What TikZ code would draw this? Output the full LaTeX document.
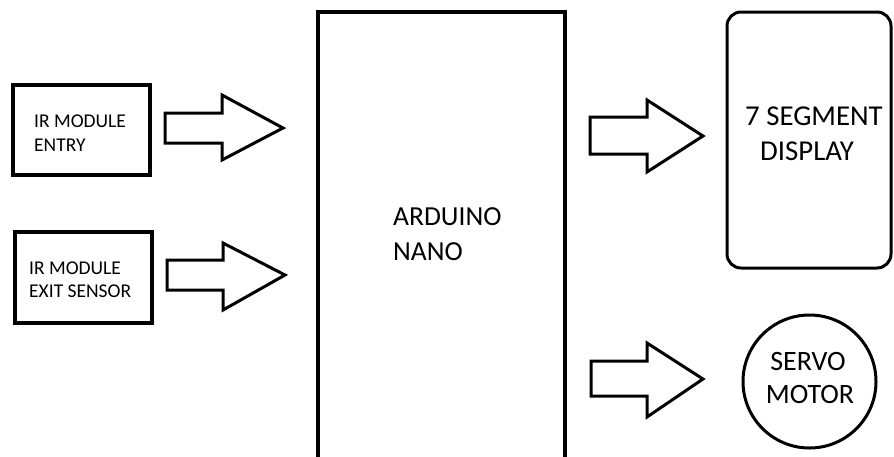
\documentclass[tikz,border=0pt]{standalone}
\usepackage{fontspec}
\setmainfont{Carlito}
\begin{document}
\begin{tikzpicture}[x=1pt,y=-1pt,
  boxline/.style={draw=black,line width=3.6pt},
  thinline/.style={draw=black,line width=3pt},
  smalltxt/.style={anchor=base west,inner sep=0pt,font=\fontsize{19.5}{22}\selectfont},
  bigtxt/.style={anchor=base west,inner sep=0pt,font=\fontsize{27.5}{33}\selectfont},
  segtxt/.style={anchor=base west,inner sep=0pt,font=\fontsize{28.8}{33}\selectfont},
  ctrtxt/.style={anchor=base,inner sep=0pt,font=\fontsize{28}{33}\selectfont},
  blockarrow/.style={draw=black,line width=3pt,line join=miter,fill=white}]
\useasboundingbox (0,0) rectangle (894,456);
\clip (0,0) rectangle (894,456);
% boxes
\draw[boxline] (13,85) rectangle (150,175);
\draw[boxline] (15,232) rectangle (152,323);
\draw[boxline] (318,12) rectangle (565,470);
\draw[thinline,rounded corners=14pt] (727,12) rectangle (891,268);
\node[draw=black,line width=3pt,circle,minimum size=133pt,inner sep=0pt] (servo) at (809.5,381.5) {};
% texts
\node[smalltxt] (ir1a) at (34,127) {IR MODULE};
\node[smalltxt] (ir1b) at (34,151) {ENTRY};
\node[smalltxt] (ir2a) at (29,274) {IR MODULE};
\node[smalltxt] (ir2b) at (29,297) {EXIT SENSOR};
\node[bigtxt] (ard1) at (393,225) {ARDUINO};
\node[bigtxt] (ard2) at (393,260) {NANO};
\node[segtxt] (seg1) at (745,125) {7 SEGMENT};
\node[segtxt] (seg2) at (760,160) {DISPLAY};
\node[ctrtxt] (srv1) at (808,370) {SERVO};
\node[ctrtxt] (srv2) at (810,403) {MOTOR};
% block arrows
\draw[blockarrow] (165,113) -- (222,113) -- (222,95) -- (283,128) -- (222,160) -- (222,143) -- (165,143) -- cycle;
\draw[blockarrow] (167,260) -- (223,260) -- (223,243) -- (285,275) -- (223,310) -- (223,290) -- (167,290) -- cycle;
\draw[blockarrow] (590,117) -- (647,117) -- (647,100) -- (703,136) -- (647,172) -- (647,154) -- (590,154) -- cycle;
\draw[blockarrow] (591,361) -- (647,361) -- (647,343) -- (703,379) -- (647,417) -- (647,396) -- (591,396) -- cycle;
\end{tikzpicture}
\end{document}
